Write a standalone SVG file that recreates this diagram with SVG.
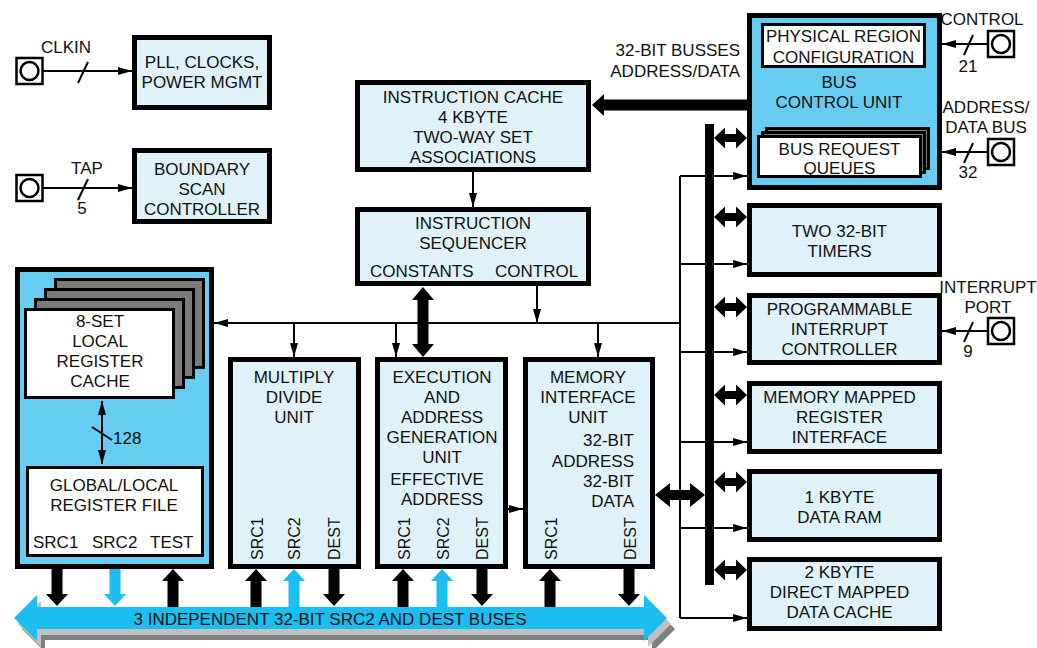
<svg xmlns="http://www.w3.org/2000/svg" width="1037" height="648" viewBox="0 0 1037 648">
<defs>
<style>
text{font-family:"Liberation Sans",Arial,sans-serif;font-size:17px;fill:#111;}
.c{text-anchor:middle;}
.e{text-anchor:end;}
.r{font-size:16px;}
.box{fill:#dff2fa;stroke:#000;stroke-width:5;}
.blk{fill:#66ccf2;stroke:#000;stroke-width:5;}
.wbox{fill:#fff;stroke:#000;stroke-width:3;}
.gbox{fill:#7a7a7a;stroke:#000;stroke-width:3;}
.ln{fill:none;stroke:#000;stroke-width:2;}
.la{fill:none;stroke:#000;stroke-width:2;marker-end:url(#ah);}
.term{fill:#fff;stroke:#000;stroke-width:2.5;}
</style>
<marker id="ah" viewBox="0 0 14 8" refX="14" refY="4" markerWidth="14" markerHeight="8" markerUnits="userSpaceOnUse" orient="auto-start-reverse">
<path d="M0,0 L14,4 L0,8 Z" fill="#000"/>
</marker>
<path id="dn" d="M-5.5,0 H5.5 V25 H11 L0,37 L-11,25 H-5.5 Z"/>
<path id="up" d="M0,0 L11,12 H5.5 V38 H-5.5 V12 H-11 Z"/>
<path id="dbl" d="M0,0 L11,-10.5 V-4 H22 V-10.5 L33,0 L22,10.5 V4 H11 V10.5 Z"/>
<path id="bus" d="M14,618 L37,595 V607 H644 V595 L667,618 L644,641 V629 H37 V641 Z"/>
</defs>

<g id="bus-shadow">
<use href="#bus" x="8" y="11" fill="#7f7f7f"/>
<use href="#bus" x="4" y="6" fill="#c0c0c0"/>
</g>
<g id="bus-main">
<use href="#bus" fill="#1abef0"/>
<text class="c" x="330" y="625">3 INDEPENDENT 32-BIT SRC2 AND DEST BUSES</text>
</g>

<g id="connectors">
<!-- vertical internal bus bar -->
<rect x="705" y="124" width="9" height="461" fill="#000"/>
<!-- thin control distribution -->
<path class="ln" d="M680,176 V618"/>
<path class="la" d="M680,176 H747"/>
<path class="la" d="M680,264 H747"/>
<path class="la" d="M680,352 H747"/>
<path class="la" d="M680,442 H747"/>
<path class="la" d="M680,528 H747"/>
<path class="la" d="M680,618 H747"/>
<path class="la" d="M680,323 H214"/>
<path class="la" d="M294,323 V357"/>
<path class="la" d="M396,323 V357"/>
<path class="la" d="M598,323 V357"/>
<path class="la" d="M537,286 V323"/>
<path class="la" d="M473,172 V207"/>
<path class="la" d="M508,509 H523"/>
<!-- double arrows bus bar to right boxes -->
<use href="#dbl" x="714" y="138"/>
<use href="#dbl" x="714" y="217"/>
<use href="#dbl" x="714" y="307"/>
<use href="#dbl" x="714" y="395"/>
<use href="#dbl" x="714" y="482"/>
<use href="#dbl" x="714" y="570"/>
<!-- memory to bus bar -->
<path d="M655,495 L670,483 V490 H690 V483 L705,495 L690,507 V500 H670 V507 Z" fill="#000"/>
<!-- constants -->
<path d="M423,287 L434,300 H428.5 V344 H434 L423,357 L412,344 H417.5 V300 H412 Z" fill="#000"/>
<!-- BCU to instruction cache -->
<path d="M592,105 L604,94 V99.5 H747 V110.5 H604 V116 Z" fill="#000"/>
<!-- register block to bus -->
<use href="#dn" x="57" y="569" fill="#000"/>
<use href="#dn" x="115" y="569" fill="#1abef0"/>
<use href="#up" x="173" y="569" fill="#000"/>
<use href="#up" x="256" y="569" fill="#000"/>
<use href="#up" x="294" y="569" fill="#1abef0"/>
<use href="#dn" x="334" y="569" fill="#000"/>
<use href="#up" x="403" y="569" fill="#000"/>
<use href="#up" x="442" y="569" fill="#1abef0"/>
<use href="#dn" x="482" y="569" fill="#000"/>
<use href="#up" x="550" y="569" fill="#000"/>
<use href="#dn" x="629" y="569" fill="#000"/>
<!-- external pins -->
<path class="la" d="M43,71 H132"/>
<path class="ln" d="M78,83 L88,62"/>
<path class="la" d="M43,188 H132"/>
<path class="ln" d="M78,200 L88,179"/>
<path class="la" d="M987,44 H942"/>
<path class="ln" d="M964,55 L973,35"/>
<path class="la" d="M987,152 H942"/>
<path class="ln" d="M964,163 L973,143"/>
<path class="la" d="M987,331 H942"/>
<path class="ln" d="M964,342 L973,322"/>
</g>

<g id="pin-clkin">
<rect class="term" x="16.5" y="58" width="26" height="26"/>
<circle class="term" cx="29.5" cy="71" r="9"/>
<text class="c" x="66" y="53">CLKIN</text>
</g>
<g id="pin-tap">
<rect class="term" x="16.5" y="175" width="26" height="26"/>
<circle class="term" cx="29.5" cy="188" r="9"/>
<text class="c" x="87" y="174">TAP</text>
<text class="c" x="82" y="214">5</text>
</g>
<g id="pin-control">
<rect class="term" x="988" y="31" width="26" height="26"/>
<circle class="term" cx="1001" cy="44" r="9"/>
<text class="c" x="982" y="25">CONTROL</text>
<text class="c" x="968" y="72">21</text>
</g>
<g id="pin-addr">
<rect class="term" x="988" y="139" width="26" height="26"/>
<circle class="term" cx="1001" cy="152" r="9"/>
<text class="c" x="986" y="113">ADDRESS/</text>
<text class="c" x="986" y="133">DATA BUS</text>
<text class="c" x="968" y="178">32</text>
</g>
<g id="pin-interrupt">
<rect class="term" x="988" y="318" width="26" height="26"/>
<circle class="term" cx="1001" cy="331" r="9"/>
<text class="c" x="988" y="293">INTERRUPT</text>
<text class="c" x="988" y="313">PORT</text>
<text class="c" x="968" y="357">9</text>
</g>

<g id="bus-label">
<text class="e" x="740" y="56">32-BIT BUSSES</text>
<text class="e" x="740" y="77">ADDRESS/DATA</text>
</g>

<g id="pll">
<rect class="box" x="134.5" y="37.5" width="135" height="70"/>
<text class="c" x="202" y="68">PLL, CLOCKS,</text>
<text class="c" x="202" y="88">POWER MGMT</text>
</g>
<g id="boundary-scan">
<rect class="box" x="134.5" y="150.5" width="135" height="71"/>
<text class="c" x="202" y="175">BOUNDARY</text>
<text class="c" x="202" y="195">SCAN</text>
<text class="c" x="202" y="215">CONTROLLER</text>
</g>
<g id="instruction-cache">
<rect class="box" x="357.5" y="82.5" width="231" height="87"/>
<text class="c" x="473" y="103">INSTRUCTION CACHE</text>
<text class="c" x="473" y="123">4 KBYTE</text>
<text class="c" x="473" y="143">TWO-WAY SET</text>
<text class="c" x="473" y="163">ASSOCIATIONS</text>
</g>
<g id="instruction-sequencer">
<rect class="box" x="357.5" y="209.5" width="231" height="74"/>
<text class="c" x="473" y="229">INSTRUCTION</text>
<text class="c" x="473" y="249">SEQUENCER</text>
<text x="370" y="277">CONSTANTS</text>
<text x="495" y="277">CONTROL</text>
</g>
<g id="bus-control-unit">
<rect class="blk" x="749.5" y="15.5" width="190" height="172"/>
<rect class="wbox" x="762.5" y="24.5" width="162" height="42"/>
<text class="c" x="843.5" y="42">PHYSICAL REGION</text>
<text class="c" x="843.5" y="63">CONFIGURATION</text>
<text class="c" x="839" y="88">BUS</text>
<text class="c" x="839" y="108">CONTROL UNIT</text>
<rect class="gbox" x="766.5" y="128.5" width="162" height="40"/>
<rect class="gbox" x="762.5" y="132.5" width="162" height="40"/>
<rect class="wbox" x="758.5" y="136.5" width="162" height="40"/>
<text class="c" x="839.5" y="155">BUS REQUEST</text>
<text class="c" x="839.5" y="174">QUEUES</text>
</g>
<g id="timers">
<rect class="box" x="749.5" y="205.5" width="190" height="69"/>
<text class="c" x="839.5" y="237">TWO 32-BIT</text>
<text class="c" x="839.5" y="257">TIMERS</text>
</g>
<g id="interrupt-controller">
<rect class="box" x="749.5" y="295.5" width="190" height="67"/>
<text class="c" x="839.5" y="315">PROGRAMMABLE</text>
<text class="c" x="839.5" y="335">INTERRUPT</text>
<text class="c" x="839.5" y="355">CONTROLLER</text>
</g>
<g id="mmr-interface">
<rect class="box" x="749.5" y="383.5" width="190" height="68"/>
<text class="c" x="839.5" y="403">MEMORY MAPPED</text>
<text class="c" x="839.5" y="423">REGISTER</text>
<text class="c" x="839.5" y="443">INTERFACE</text>
</g>
<g id="data-ram">
<rect class="box" x="749.5" y="471.5" width="190" height="68"/>
<text class="c" x="839.5" y="503">1 KBYTE</text>
<text class="c" x="839.5" y="523">DATA RAM</text>
</g>
<g id="data-cache">
<rect class="box" x="749.5" y="559.5" width="190" height="69"/>
<text class="c" x="839.5" y="578">2 KBYTE</text>
<text class="c" x="839.5" y="598">DIRECT MAPPED</text>
<text class="c" x="839.5" y="618">DATA CACHE</text>
</g>
<g id="register-block">
<rect class="blk" x="17.5" y="269.5" width="194" height="297"/>
<rect class="gbox" x="55.5" y="279.5" width="148" height="88"/>
<rect class="gbox" x="45.5" y="289.5" width="148" height="88"/>
<rect class="gbox" x="35.5" y="299.5" width="148" height="88"/>
<rect class="wbox" x="25.5" y="309.5" width="148" height="88"/>
<text class="c" x="100" y="327">8-SET</text>
<text class="c" x="100" y="347">LOCAL</text>
<text class="c" x="100" y="367">REGISTER</text>
<text class="c" x="100" y="387">CACHE</text>
<path d="M102,401 V464" fill="none" stroke="#000" stroke-width="2" marker-start="url(#ah)" marker-end="url(#ah)"/>
<path class="ln" d="M92,427 L112,440"/>
<text x="113" y="444">128</text>
<rect class="wbox" x="27.5" y="467.5" width="175" height="88"/>
<text class="c" x="114" y="491">GLOBAL/LOCAL</text>
<text class="c" x="114" y="511">REGISTER FILE</text>
<text x="33" y="548">SRC1</text>
<text x="92" y="548">SRC2</text>
<text x="150" y="548">TEST</text>
</g>
<g id="multiply-divide">
<rect class="box" x="230.5" y="359.5" width="128" height="207"/>
<text class="c" x="294" y="383">MULTIPLY</text>
<text class="c" x="294" y="403">DIVIDE</text>
<text class="c" x="294" y="423">UNIT</text>
<text class="r" transform="translate(263,560) rotate(-90)">SRC1</text>
<text class="r" transform="translate(300,560) rotate(-90)">SRC2</text>
<text class="r" transform="translate(340,560) rotate(-90)">DEST</text>
</g>
<g id="execution-unit">
<rect class="box" x="377.5" y="359.5" width="128" height="207"/>
<text class="c" x="442" y="383">EXECUTION</text>
<text class="c" x="442" y="403">AND</text>
<text class="c" x="442" y="423">ADDRESS</text>
<text class="c" x="442" y="443">GENERATION</text>
<text class="c" x="442" y="463">UNIT</text>
<text class="c" x="437" y="485">EFFECTIVE</text>
<text class="c" x="442" y="505">ADDRESS</text>
<text class="r" transform="translate(410,560) rotate(-90)">SRC1</text>
<text class="r" transform="translate(449,560) rotate(-90)">SRC2</text>
<text class="r" transform="translate(488,560) rotate(-90)">DEST</text>
</g>
<g id="memory-interface">
<rect class="box" x="525.5" y="359.5" width="127" height="207"/>
<text class="c" x="588" y="383">MEMORY</text>
<text class="c" x="588" y="403">INTERFACE</text>
<text class="c" x="588" y="423">UNIT</text>
<text class="e" x="634" y="446">32-BIT</text>
<text class="e" x="634" y="467">ADDRESS</text>
<text class="e" x="634" y="487">32-BIT</text>
<text class="e" x="634" y="507">DATA</text>
<text class="r" transform="translate(557,560) rotate(-90)">SRC1</text>
<text class="r" transform="translate(636,560) rotate(-90)">DEST</text>
</g>
</svg>
